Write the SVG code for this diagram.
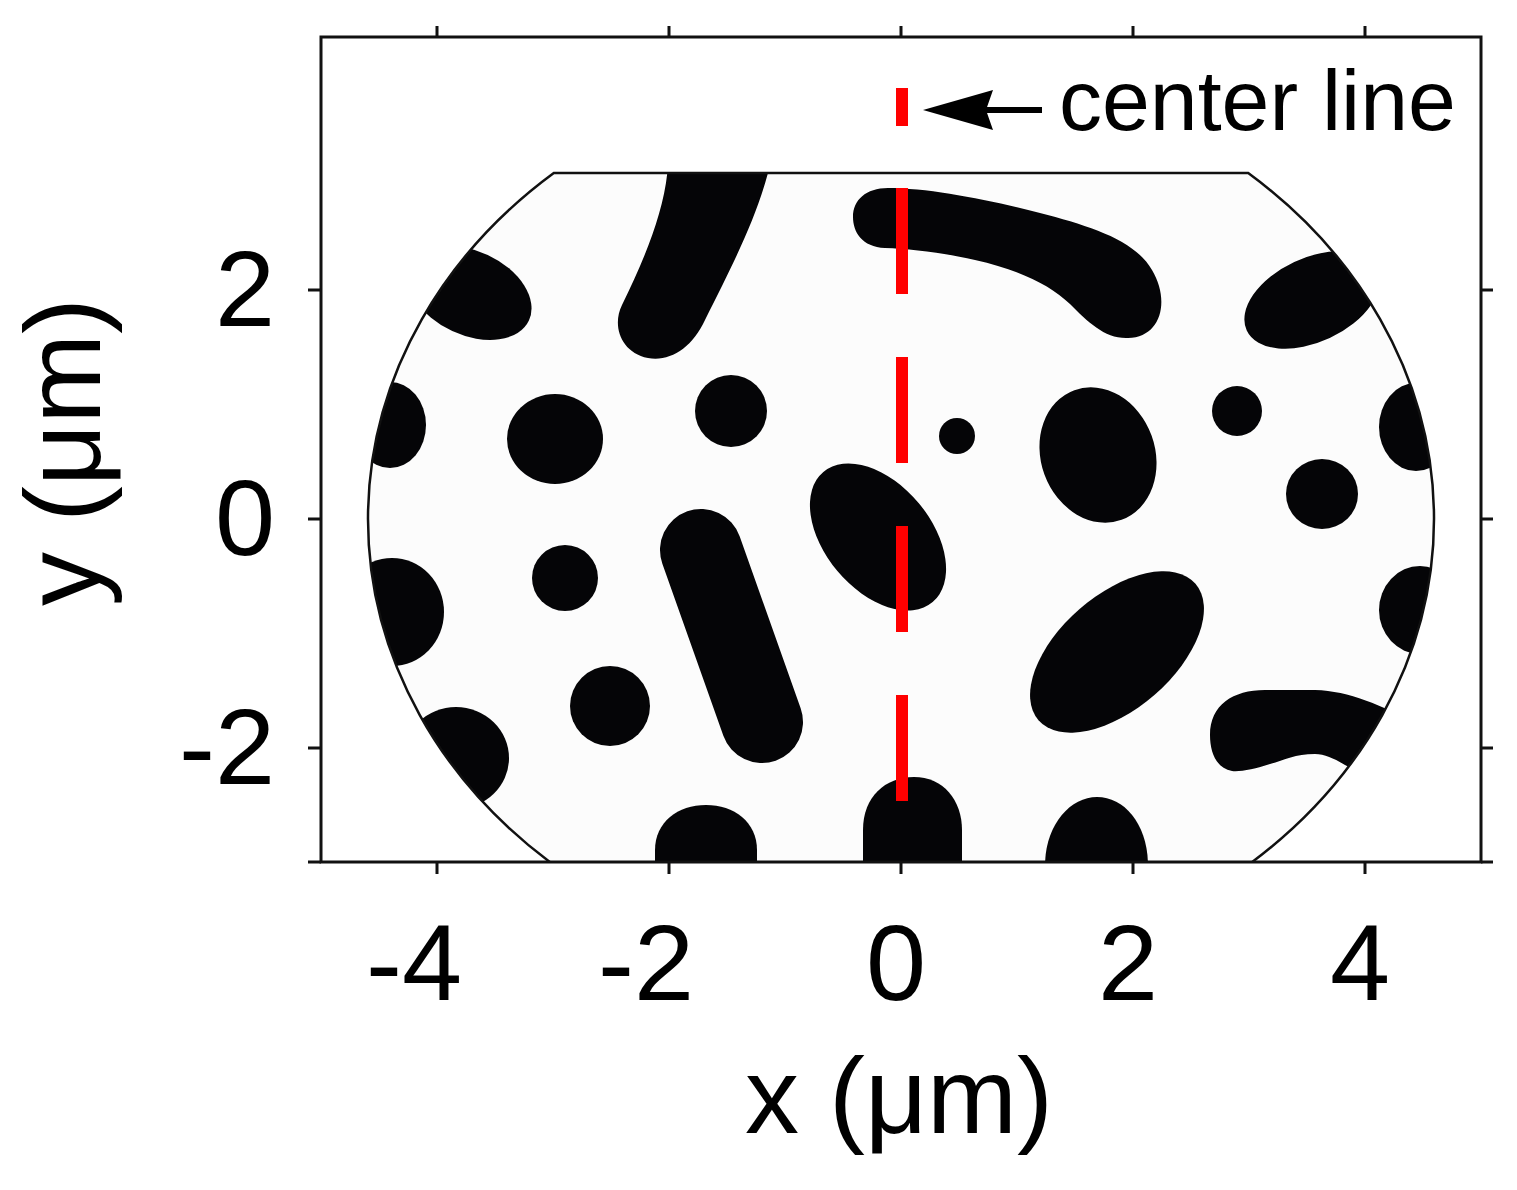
<svg xmlns="http://www.w3.org/2000/svg" width="1517" height="1190" viewBox="0 0 1517 1190">
<style>
.b{fill:#050507}
.c{stroke:#050507;stroke-linecap:round;fill:none}
.t{font-family:"Liberation Sans",Arial,sans-serif;fill:#000}
.tick{stroke:#111;stroke-width:3}
</style>
<defs>
<clipPath id="reg"><path d="M553.8,173 L1248.2,173 A533,456 0 0 1 1252.2,862 L549.8,862 A533,456 0 0 1 553.8,173 Z"/></clipPath>
</defs>
<rect width="1517" height="1190" fill="#fff"/>
<g id="plot-region">
<path d="M553.8,173 L1248.2,173 A533,456 0 0 1 1252.2,862 L549.8,862 A533,456 0 0 1 553.8,173 Z" fill="#fcfcfc"/>
</g>
<g id="domains" clip-path="url(#reg)">
<ellipse id="A" class="b" cx="470" cy="293" rx="65" ry="42" transform="rotate(25 470 293)"/>
<path id="B" class="b" d="M668,165 L770,165 C758,215 735,260 705,320 C692,348 670,362 648,358 C620,352 612,325 622,305 C645,258 665,210 668,165 Z"/>
<path id="X" class="b" d="M888,188 C930,188 990,200 1040,213 C1090,226 1135,240 1152,270 C1170,300 1162,337 1128,338 C1105,339 1088,322 1070,304 C1050,285 1020,270 975,260 C940,252 910,249 885,248 C862,247 853,232 853,217 C853,200 866,188 888,188 Z"/>
<ellipse id="W" class="b" cx="1312" cy="300" rx="72" ry="42" transform="rotate(-25 1312 300)"/>
<ellipse id="C" class="b" cx="390" cy="425" rx="36" ry="43"/>
<ellipse id="D" class="b" cx="555" cy="439" rx="48" ry="45"/>
<ellipse id="E" class="b" cx="731" cy="411" rx="36" ry="36"/>
<ellipse id="R" class="b" cx="957" cy="436" rx="18" ry="18"/>
<ellipse id="S" class="b" cx="1098" cy="455" rx="57" ry="69" transform="rotate(-20 1098 455)"/>
<ellipse id="T" class="b" cx="1237" cy="411" rx="25" ry="25"/>
<ellipse id="V" class="b" cx="1416" cy="427" rx="37" ry="44"/>
<ellipse id="F" class="b" cx="878" cy="537" rx="85" ry="53" transform="rotate(50 878 537)"/>
<ellipse id="U" class="b" cx="1322" cy="494" rx="36" ry="35"/>
<ellipse id="G" class="b" cx="565" cy="578" rx="33" ry="33"/>
<line id="H" class="c" x1="701" y1="550" x2="762" y2="722" stroke-width="82"/>
<ellipse id="I" class="b" cx="392" cy="612" rx="52" ry="54"/>
<ellipse id="Q" class="b" cx="1420" cy="610" rx="41" ry="44"/>
<ellipse id="J" class="b" cx="610" cy="706" rx="40" ry="40"/>
<ellipse id="N" class="b" cx="1117" cy="652" rx="104" ry="57" transform="rotate(-41 1117 652)"/>
<ellipse id="K" class="b" cx="456" cy="758" rx="53" ry="51"/>
<path id="P" class="b" d="M1210,735 C1210,705 1233,690 1265,690 L1315,690 C1350,691 1380,705 1420,725 L1420,800 C1390,790 1365,775 1345,765 C1335,759 1325,754 1315,754 C1295,754 1285,760 1270,764 C1255,769 1240,772 1232,771 C1216,768 1210,752 1210,735 Z"/>
<path id="L" class="b" d="M655,866 L655,850 C655,822 678,805 706,805 C734,805 757,822 757,850 L757,866 Z"/>
<path id="M" class="b" d="M863,866 L863,830 C863,797 885,777 914,777 C943,777 962,800 962,830 L962,866 Z"/>
<path id="O" class="b" d="M1045,866 C1045,825 1070,797 1097,797 C1125,797 1148,825 1148,866 Z"/>
</g>
<g id="region-outline">
<path d="M549.8,862 A533,456 0 0 1 553.8,173 L1248.2,173 A533,456 0 0 1 1252.2,862" fill="none" stroke="#111" stroke-width="2.5"/>
</g>
<g id="center-line">
<line x1="902" y1="188" x2="902" y2="801" stroke="#f00" stroke-width="12" stroke-dasharray="106 63"/>
</g>
<g id="axes">
<rect x="321" y="37" width="1160" height="825" fill="none" stroke="#111" stroke-width="3"/>
<path class="tick" d="M437,37V26M669,37V26M901,37V26M1133,37V26M1365,37V26M437,862V874M669,862V874M901,862V874M1133,862V874M1365,862V874M321,290H308M321,519H308M321,748H308M321,862H308M1481,290H1493M1481,519H1493M1481,748H1493M1481,862H1493"/>
<g class="t" font-size="108" text-anchor="end">
<text x="462" y="1000">-4</text>
<text x="694" y="1000">-2</text>
<text x="926" y="1000">0</text>
<text x="1158" y="1000">2</text>
<text x="1390" y="1000">4</text>
<text x="275" y="326">2</text>
<text x="275" y="555">0</text>
<text x="275" y="784">-2</text>
</g>
<text class="t" font-size="108" text-anchor="middle" x="899" y="1133">x (μm)</text>
<text class="t" font-size="108" text-anchor="middle" transform="translate(100,452) rotate(-90)">y (μm)</text>
</g>
<g id="legend">
<rect x="896" y="88" width="12" height="38" fill="#f00"/>
<line x1="984" y1="110" x2="1042" y2="110" stroke="#000" stroke-width="6"/>
<polygon points="923,110 993,90 986,110 993,130" fill="#000"/>
<text class="t" font-size="86" x="1059" y="130">center line</text>
</g>
</svg>
